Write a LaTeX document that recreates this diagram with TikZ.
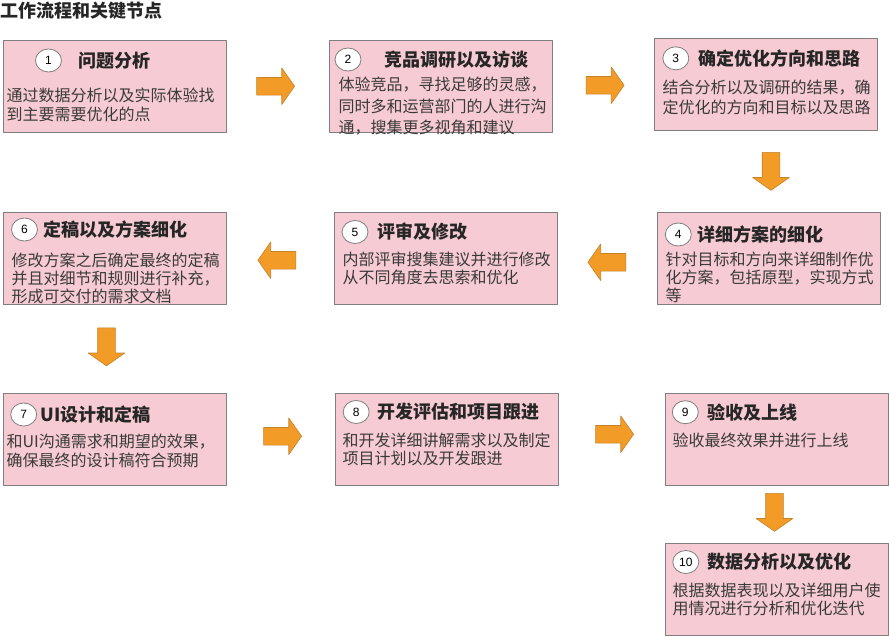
\documentclass[tikz,border=0pt]{standalone}
\usepackage{fontspec}
\setmainfont{Noto Sans CJK SC}
\newfontfamily\numfont{Liberation Sans}
\usetikzlibrary{calc,shapes.arrows,shapes.geometric}

\begin{document}
\begin{tikzpicture}[x=1pt,y=-1pt,line join=round,
  stepbox/.style={draw=boxedge,fill=boxfill,line width=1,minimum width=223,minimum height=92.5,inner sep=0},
  numbadge/.style={ellipse,draw=boxedge,fill=white,line width=0.8,minimum width=26,minimum height=23,inner sep=0,font=\numfont\fontsize{12}{12}\selectfont,text=black},
  stephead/.style={anchor=west,inner sep=0,font=\bfseries\fontsize{18}{18}\selectfont,text=headtext},
  stepbody/.style={anchor=north west,inner sep=0,align=left,text=bodytext},
  flowarrow/.style={single arrow,draw=arrowedge,fill=arrowfill,line width=0.6,minimum height=38,minimum width=36,single arrow head extend=9.5,single arrow tip angle=110,inner sep=8.5,font=\fontsize{1}{1}\selectfont}]
\definecolor{boxfill}{HTML}{F6CBD3}
\definecolor{boxedge}{HTML}{7F7F7F}
\definecolor{headtext}{HTML}{262626}
\definecolor{bodytext}{HTML}{3A3A3A}
\definecolor{arrowfill}{HTML}{F39B27}
\definecolor{arrowedge}{HTML}{C4822A}

\useasboundingbox (0,0) rectangle (889,637);

\node[anchor=west,inner sep=0,font=\bfseries\fontsize{18}{18}\selectfont,text=headtext] (title) at (0,11) {工作流程和关键节点};

% steps: number / box corner / badge / heading / body
\foreach \n/\x/\y/\cx/\cy/\hx/\bx/\by/\ls/\heading/\body in {
  1/3/40/46/21/76/4/54.5/18.7/{问题分析}/{通过数据分析以及实际体验找\\到主要需要优化的点},
  2/329/40/19.5/20/56/10/43.3/21.5/{竞品调研以及访谈}/{体验竞品，寻找足够的灵感，\\同时多和运营部门的人进行沟\\通，搜集更多视角和建议},
  3/654/38/22.3/20.8/44.3/9/48.7/19.3/{确定优化方向和思路}/{结合分析以及调研的结果，确\\定优化的方向和目标以及思路},
  4/657/212/21.8/23/40.3/9/46/18.2/{详细方案的细化}/{针对目标和方向来详细制作优\\化方案，包括原型，实现方式\\等},
  5/334/212/21.5/20.5/43.3/9/46/18.7/{评审及修改}/{内部评审搜集建议并进行修改\\从不同角度去思索和优化},
  6/3/212/22/18/40.3/9/47/18.2/{定稿以及方案细化}/{修改方案之后确定最终的定稿\\并且对细节和规则进行补充，\\形成可交付的需求文档},
  7/3/393/21.2/22/38/4/47.7/18.2/{UI设计和定稿}/{和UI沟通需求和期望的效果，\\确保最终的设计稿符合预期},
  8/335/393/21.7/19.5/42.3/8/46/18.3/{开发评估和项目跟进}/{和开发详细讲解需求以及制定\\项目计划以及开发跟进},
  9/665/393/20.8/19.7/42.3/8/46/18.5/{验收及上线}/{验收最终效果并进行上线},
  10/665/543/21.3/19.5/42.3/8/46/18.7/{数据分析以及优化}/{根据数据表现以及详细用户使\\用情况进行分析和优化迭代}} {
  \node[stepbox] (box\n) at (\x+111.5,\y+46.25) {};
  \node[numbadge] (num\n) at ($(box\n.north west)+(\cx,\cy)$) {\n};
  \node[stephead] (head\n) at ($(box\n.north west)+(\hx,\cy)$) {\heading};
  \node[stepbody,font=\fontsize{16}{\ls}\selectfont] (body\n) at ($(box\n.north west)+(\bx,\by-6)$) {\body};
}

% block arrows between the steps
\foreach \a/\b/\dir/\dx/\dy in {1/2/0/-5/0, 2/3/0/-1/0, 3/4/270/4/-3, 4/5/180/3/4, 5/6/180/0/2,
  6/7/270/-8/-5, 7/8/0/-1/-3, 8/9/0/0/-5, 9/10/270/-2/-5} {
  \node[flowarrow,shape border rotate=\dir] (arr\a) at ($($(box\a)!0.5!(box\b)$)+(\dx,\dy)$) {};
}
\end{tikzpicture}
\end{document}
